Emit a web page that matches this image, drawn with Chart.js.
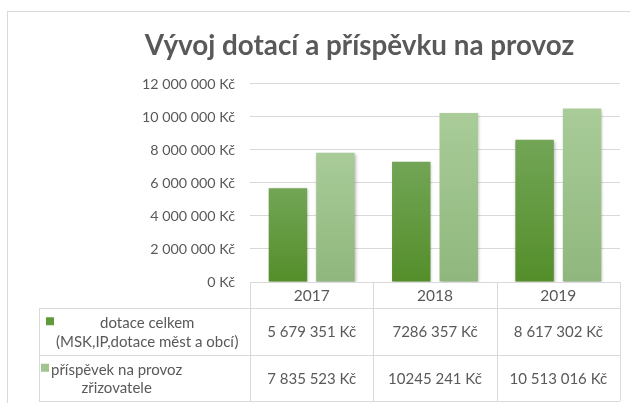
<!DOCTYPE html>
<html lang="cs">
<head>
<meta charset="utf-8">
<script src="https://cdn.jsdelivr.net/npm/chart.js@4.4.1/dist/chart.umd.min.js"></script>
<style>
  html, body { margin: 0; padding: 0; background: #ffffff; }
  #wrap { width: 630px; height: 403px; }
</style>
</head>
<body>
<div id="wrap"><canvas id="fundingChart" width="630" height="403"></canvas></div>
<script>
const years = ["2017", "2018", "2019"];
const subsidyValues = [5679351, 7286357, 8617302];
const contributionValues = [7835523, 10245241, 10513016];
const subsidyText = ["5 679 351 Kč", "7286 357 Kč", "8 617 302 Kč"];
const contributionText = ["7 835 523 Kč", "10245 241 Kč", "10 513 016 Kč"];
const subsidyLabel = ["dotace celkem", "(MSK,IP,dotace měst a obcí)"];
const contributionLabel = ["příspěvek na provoz", "zřizovatele"];
const yTicks = [0, 2000000, 4000000, 6000000, 8000000, 10000000, 12000000];

const textColor = "#595959";
const lineColor = "#d9d9d9";
const fontFamily = "Lato, 'Open Sans', sans-serif";

const money = value => new Intl.NumberFormat("cs-CZ", { maximumFractionDigits: 0 })
  .format(value).replace(/\s/g, " ") + " Kč";

function barGradient(top, bottom) {
  return context => {
    const chart = context.chart;
    if (!chart.chartArea || context.type !== "data") return bottom;
    const yScale = chart.scales.y;
    const y0 = yScale.getPixelForValue(context.raw);
    const y1 = yScale.getPixelForValue(0);
    const gradient = chart.ctx.createLinearGradient(0, y0, 0, y1);
    gradient.addColorStop(0, top);
    gradient.addColorStop(1, bottom);
    return gradient;
  };
}

const frame = {
  id: "frame",
  beforeDraw(chart) {
    const { ctx } = chart;
    ctx.save();
    ctx.fillStyle = "#ffffff";
    ctx.fillRect(0, 0, chart.width, chart.height);
    ctx.strokeStyle = lineColor;
    ctx.lineWidth = 1;
    ctx.strokeRect(7.5, 11.5, 700, 500);
    ctx.restore();
  }
};

const barShadow = {
  id: "barShadow",
  beforeDatasetsDraw(chart) {
    const { ctx } = chart;
    ctx.save();
    ctx.shadowColor = "rgba(0, 0, 0, 0.28)";
    ctx.shadowBlur = 3;
    ctx.shadowOffsetX = 1;
    ctx.shadowOffsetY = 1;
  },
  afterDatasetsDraw(chart) {
    chart.ctx.restore();
  }
};

// Excel-style data table under the plot
const dataTable = {
  id: "dataTable",
  afterDraw(chart) {
    const { ctx, chartArea, scales: { x } } = chart;
    const step = x.getPixelForValue(1) - x.getPixelForValue(0);
    const colLeft = i => x.getPixelForValue(i) - step / 2;
    const tableLeft = 39;
    const top = chartArea.bottom;
    const headBottom = top + 26;
    const row1Bottom = headBottom + 47;
    const row2Bottom = row1Bottom + 46;
    const right = chartArea.right;

    ctx.save();
    ctx.strokeStyle = lineColor;
    ctx.lineWidth = 1;
    ctx.beginPath();
    [headBottom, row1Bottom, row2Bottom].forEach(y => {
      ctx.moveTo(tableLeft, Math.round(y) + 0.5);
      ctx.lineTo(right, Math.round(y) + 0.5);
    });
    ctx.moveTo(tableLeft + 0.5, headBottom);
    ctx.lineTo(tableLeft + 0.5, row2Bottom);
    for (let i = 0; i <= years.length; i++) {
      const cx = Math.round(i < years.length ? colLeft(i) : right) + 0.5;
      ctx.moveTo(cx, top);
      ctx.lineTo(cx, row2Bottom);
    }
    ctx.stroke();

    ctx.fillStyle = textColor;
    ctx.font = `15.5px ${fontFamily}`;
    ctx.textAlign = "center";
    ctx.textBaseline = "middle";
    years.forEach((year, i) => {
      ctx.fillText(year, x.getPixelForValue(i), (top + headBottom) / 2 + 1);
    });

    ctx.font = `15px ${fontFamily}`;
    const rows = [
      { lines: subsidyLabel, text: subsidyText, y0: headBottom, y1: row1Bottom, dataset: 0, keyX: tableLeft + 7 },
      { lines: contributionLabel, text: contributionText, y0: row1Bottom, y1: row2Bottom, dataset: 1, keyX: tableLeft + 2 }
    ];
    rows.forEach(row => {
      const mid = (row.y0 + row.y1) / 2;
      const lineH = 18.5;
      const firstY = mid - (row.lines.length - 1) * lineH / 2;
      const textX = row.keyX + 10;
      const widest = Math.max(...row.lines.map(line => ctx.measureText(line).width));

      ctx.fillStyle = chart.data.datasets[row.dataset].keyColor;
      ctx.fillRect(row.keyX, firstY - 5, 8, 8);

      ctx.fillStyle = textColor;
      ctx.textAlign = "center";
      row.lines.forEach((line, k) => {
        ctx.fillText(line, textX + widest / 2, firstY + k * lineH + 1);
      });
      row.text.forEach((label, i) => {
        ctx.fillText(label, x.getPixelForValue(i), mid + 1);
      });
    });
    ctx.restore();
  }
};

new Chart(document.getElementById("fundingChart"), {
  type: "bar",
  data: {
    labels: years,
    datasets: [
      {
        label: subsidyLabel.join(" "),
        data: subsidyValues,
        keyColor: "#609a3a",
        backgroundColor: barGradient("#72a556", "#548e2a"),
        categoryPercentage: 0.77,
        barPercentage: 0.81
      },
      {
        label: contributionLabel.join(" "),
        data: contributionValues,
        keyColor: "#a0c58e",
        backgroundColor: barGradient("#a9cc98", "#8fb77d"),
        categoryPercentage: 0.77,
        barPercentage: 0.81
      }
    ]
  },
  options: {
    responsive: false,
    animation: false,
    devicePixelRatio: 1,
    layout: { padding: { top: 11, right: 10, bottom: 2, left: 99 } },
    plugins: {
      legend: { display: false },
      tooltip: { enabled: false },
      title: {
        display: true,
        text: "Vývoj dotací a příspěvku na provoz",
        color: textColor,
        font: { family: fontFamily, size: 27.8, weight: "bold", lineHeight: 1.2 },
        padding: { top: 18, bottom: 21.6 }
      }
    },
    scales: {
      x: {
        grid: { display: false },
        border: { display: false },
        ticks: { display: false },
        afterFit: scale => { scale.height = 119; }
      },
      y: {
        min: 0,
        max: yTicks[yTicks.length - 1],
        afterBuildTicks: scale => { scale.ticks = yTicks.map(value => ({ value })); },
        grid: { color: lineColor, drawTicks: false },
        border: { display: false },
        ticks: {
          color: textColor,
          padding: 15,
          font: { family: fontFamily, size: 14.3 },
          callback: value => money(value)
        },
        afterFit: scale => { scale.width = 151; }
      }
    }
  },
  plugins: [frame, barShadow, dataTable]
});
</script>
</body>
</html>
